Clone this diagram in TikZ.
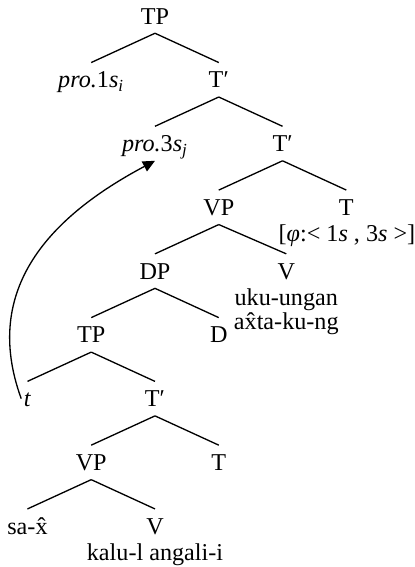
\documentclass[tikz,border=0pt]{standalone}
\usepackage{fontspec}
\setmainfont{Liberation Serif}
\usetikzlibrary{positioning}
\usetikzlibrary{arrows.meta}
\tikzset{
cat/.style={font=\fontsize{11}{10}\selectfont, text height=7.3pt, text depth=0pt, inner sep=4pt},
gloss/.style={font=\fontsize{11}{10}\selectfont, inner sep=0pt, align=center},
branch/.style={line width=0.6pt},
movement/.style={-{Triangle[length=5.5pt,width=5pt]}, branch},
}

\begin{document}
\begin{tikzpicture}[node distance=1.443cm]
\useasboundingbox (-2.48,0.256) rectangle (4.16,-8.816);
%Place the nodes
\node[cat] (tp) at (0,0) {TP};
\node[cat, below left of=tp] (pro1) {\textit{pro.}1\textit{s}\textsubscript{\textit{i}}};
\node[cat, below right of=tp] (tb1) {T′};
\node[cat, below left of=tb1] (pro3) {\textit{pro.}3\textit{s}\textsubscript{\textit{j}}};
\node[cat, below right of=tb1] (tb2) {T′};
\node[cat, below left of=tb2] (vp1) {VP};
\node[cat, below right of=tb2] (t1) {T};
\node[cat, below left of=vp1] (dp) {DP};
\node[cat, below right of=vp1, xshift=0.06cm] (v1) {V};
\node[cat, below left of=dp] (tp2) {TP};
\node[cat, below right of=dp] (d) {D};
\node[cat, below left of=tp2] (tr) {\textit{t}};
\node[cat, below right of=tp2] (tb3) {T′};
\node[cat, below left of=tb3] (vp2) {VP};
\node[cat, below right of=tb3] (t2) {T};
\node[cat, below left of=vp2] (sax) {sa-x̂};
\node[cat, below right of=vp2] (v2) {V};

%features and glosses
\node[gloss, below=0pt of t1, xshift=0.01cm] (phi) {[\textit{φ}:< 1\textit{s} , 3\textit{s} >]};
\node[gloss, below=0pt of v1] (gl1) {uku-ungan\\ax̂ta-ku-ng};
\node[gloss, below=0pt of v2] (gl2) {kalu-l angali-i};

%branches
\foreach \a/\b in {tp/pro1, tp/tb1, tb1/pro3, tb1/tb2, tb2/vp1, tb2/t1,
  vp1/dp, vp1/v1, dp/tp2, dp/d, tp2/tr, tp2/tb3, tb3/vp2, tb3/t2, vp2/sax, vp2/v2}
  \draw[branch] (\a.south) -- (\b.north);

%movement
\draw[movement] ([xshift=3pt]tr.west) to[out=110, in=208, looseness=1.1] (pro3.south);

\end{tikzpicture}
\end{document}
